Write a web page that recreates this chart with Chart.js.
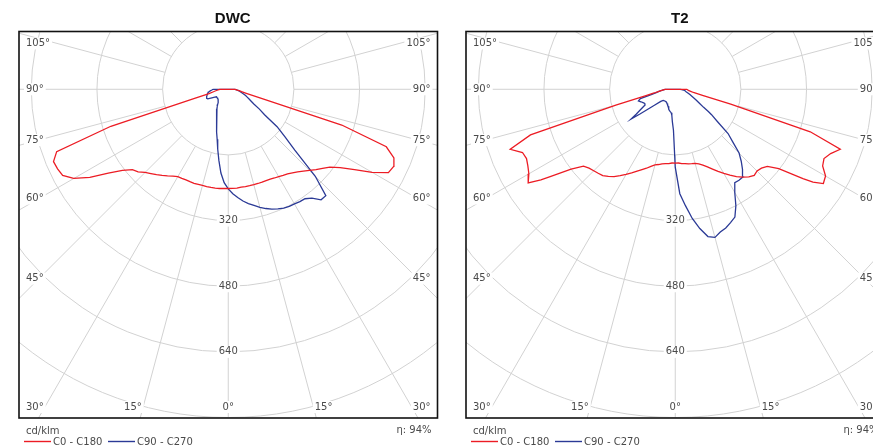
<!DOCTYPE html>
<html>
<head>
<meta charset="utf-8">
<script src="https://cdn.jsdelivr.net/npm/chart.js@4/dist/chart.umd.min.js"></script>
<style>
  html, body { margin: 0; padding: 0; background: #fff; }
  #wrap { position: relative; width: 873px; height: 446px; overflow: hidden; }
  .panel { position: absolute; top: 0; width: 447px; height: 446px; }
</style>
</head>
<body>
<div id="wrap">
  <div class="panel" style="left:0"><canvas id="dwc" width="447" height="446"></canvas></div>
  <div class="panel" style="left:447px"><canvas id="t2" width="447" height="446"></canvas></div>
</div>
<script>
// Luminous intensity distribution, cd/klm, vertical angle gamma measured from nadir.
// C0 / C90 are drawn on the right half, C180 / C270 on the left half.

const dwcGamma = [0,2.5,5,7.5,10,12.5,15,17.5,20,22.5,25,27.5,30,32.5,35,37.5,40,42.5,45,47.5,
                  50,52.5,55,57.5,60,62.5,65,67.5,70,72.5,75,77.5,80,82.5,85,87.5,90];
const dwcC0   = [242,242,242,241,241,241,241,241,241,241,242,244,246,249,252,257,263,271,280,290,
                 300,312,333,365,405,440,445,437,410,290,78,45,33,27,22,19,16];
const dwcC180 = [242,242,243,243,243,243,243,243,244,244,244,245,246,251,258,265,272,279,287,298,
                 305,325,357,400,435,455,459,461,445,300,85,48,38,32,27,23,20];
const dwcC90  = [243,255,265,275,283,290,298,305,311,316,320,322,323,325,326,335,352,352,300,220,
                 180,150,108,90,72,63,56,50,45,40,35,31,28,25,22,19,16];
const dwcC270 = [243,228,205,175,148,125,108,95,83,75,68,61,55,50,45,41,38,36,35,34,
                 34,34,34,34,38,45,55,57,56,55,53,52,50,48,44,40,37];

const t2Gamma = [0,2.5,5,7.5,10,12.5,15,17.5,20,22.5,25,27.5,30,32.5,35,37.5,40,42.5,45,47.5,
                 50,52.5,55,56,57.5,60,62.5,65,67.5,70,72.5,75,77.5,80,82.5,85,87.5,90];
const t2C0   = [180,180,182,183,185,186,187,191,197,205,215,226,237,248,260,270,279,285,282,285,
                293,318,380,405,428,423,405,400,410,428,345,140,68,45,38,32,30,28];
const t2C180 = [180,180,182,183,185,188,191,197,205,212,220,230,240,250,260,268,275,278,281,285,
                292,320,370,395,425,412,405,400,403,428,370,150,75,52,42,35,29,25];
const t2C90  = [190,255,285,318,345,368,374,365,360,352,344,320,290,270,271,270,255,238,220,190,
                168,130,108,98,82,68,58,50,43,38,34,30,27,25,23,20,16,12];
const t2C270 = [190,100,80,64,58,56,54,51,48,45,43,41,40,39,38,38,38,38,39,40,
                46,64,105,130,113,96,83,82,85,89,94,88,60,47,40,33,29,25];

// Polar grid
const ringValues   = [160, 320, 480, 640, 800, 960];
const ringLabels   = ['320', '480', '640'];
const angleTicks   = [0, 15, 30, 45, 60, 75, 90, 105];
const spokeStep    = 15;
const seriesNames  = ['C0 - C180', 'C90 - C270'];
const seriesColors = ['#ec1c24', '#2b3a96'];
const unitLabel    = 'cd/klm';
const efficiency   = 'η: 94%';

const DEG = Math.PI / 180;
const LABEL_FONT = '10px "DejaVu Sans", sans-serif';
const LABEL_COLOR = '#4a4a4a';

// Closed outline: left half from 90° down to nadir, then right half back up to 90°.
function outline(gamma, right, left) {
  const pts = [];
  for (let i = gamma.length - 1; i >= 0; i--) {
    const g = gamma[i] * DEG;
    pts.push({ x: -left[i] * Math.sin(g), y: -left[i] * Math.cos(g) });
  }
  for (let i = 0; i < gamma.length; i++) {
    const g = gamma[i] * DEG;
    pts.push({ x: right[i] * Math.sin(g), y: -right[i] * Math.cos(g) });
  }
  pts.push(pts[0]);
  return pts;
}

function boxedText(ctx, text, x, y, align) {
  const w = ctx.measureText(text).width;
  let lx = x;
  if (align === 'center') lx = x - w / 2;
  else if (align === 'right') lx = x - w;
  ctx.fillStyle = '#fff';
  ctx.fillRect(lx - 2, y - 6, w + 4, 12);
  ctx.fillStyle = LABEL_COLOR;
  ctx.textAlign = 'left';
  ctx.fillText(text, lx, y);
}

const polarGrid = {
  id: 'polarGrid',
  beforeDatasetsDraw(chart) {
    const { ctx, chartArea: a, scales: { x, y } } = chart;
    const cx = x.getPixelForValue(0), cy = y.getPixelForValue(0);
    const k = (x.getPixelForValue(100) - cx) / 100;
    ctx.save();
    ctx.beginPath();
    ctx.rect(a.left, a.top, a.right - a.left, a.bottom - a.top);
    ctx.clip();

    ctx.strokeStyle = '#d2d2d2';
    ctx.lineWidth = 1;
    ringValues.forEach(v => {
      ctx.beginPath();
      ctx.arc(cx, cy, v * k, 0, 2 * Math.PI);
      ctx.stroke();
    });
    const r0 = ringValues[0] * k, r1 = 1400 * k;
    for (let g = 0; g < 360; g += spokeStep) {
      const s = Math.sin(g * DEG), c = Math.cos(g * DEG);
      ctx.beginPath();
      ctx.moveTo(cx + s * r0, cy + c * r0);
      ctx.lineTo(cx + s * r1, cy + c * r1);
      ctx.stroke();
    }

    ctx.font = LABEL_FONT;
    ctx.textBaseline = 'middle';
    // intensity ring labels along the nadir axis
    ringLabels.forEach(t => boxedText(ctx, t, cx, cy + Number(t) * k, 'center'));

    // angle labels at the frame
    angleTicks.forEach(g => {
      const txt = g + '°';
      const w = ctx.measureText(txt).width;
      const sides = g === 0 ? [0] : [-1, 1];
      sides.forEach(side => {
        if (g <= 30) {
          const yb = a.bottom - 6;
          const yc = a.bottom - 11;
          const dx = (yb - cy) * Math.tan(g * DEG);
          if (side === 0) { boxedText(ctx, txt, cx, yc, 'center'); return; }
          if (side < 0) {
            const xr = Math.max(cx - dx, a.left + 7 + w);
            boxedText(ctx, txt, xr, yc, 'right');
          } else {
            const xl = Math.min(cx + dx, a.right - 7 - w);
            boxedText(ctx, txt, xl, yc, 'left');
          }
        } else {
          // vertical position where the spoke crosses a line 20px inside the frame
          const sg = Math.sin(g * DEG), cg = Math.cos(g * DEG);
          const reach = (cx - (a.left + 20)) / sg;
          const yc = Math.max(cy + reach * cg, a.top + 12);
          if (side < 0) boxedText(ctx, txt, a.left + 7, yc, 'left');
          else boxedText(ctx, txt, a.right - 7, yc, 'right');
        }
      });
    });
    ctx.restore();
  },
  afterDraw(chart, args, opts) {
    const { ctx, chartArea: a } = chart;
    ctx.save();
    ctx.strokeStyle = '#111';
    ctx.lineWidth = 1.6;
    ctx.strokeRect(a.left, a.top, a.right - a.left, a.bottom - a.top);

    ctx.fillStyle = '#111';
    ctx.font = 'bold 15px "Liberation Sans", Arial, sans-serif';
    ctx.textAlign = 'center';
    ctx.textBaseline = 'middle';
    ctx.fillText(opts.title, (a.left + a.right) / 2 + 4.5, 18.5);

    ctx.font = LABEL_FONT;
    ctx.fillStyle = LABEL_COLOR;
    ctx.textAlign = 'left';
    ctx.fillText(unitLabel, a.left + 7, 431);
    ctx.textAlign = 'right';
    ctx.fillText(efficiency, a.right - 6, 430.5);

    ctx.textAlign = 'left';
    const offs = [5, 89];
    seriesNames.forEach((name, i) => {
      const x0 = a.left + offs[i];
      ctx.strokeStyle = seriesColors[i];
      ctx.lineWidth = 1.4;
      ctx.beginPath();
      ctx.moveTo(x0, 441.5);
      ctx.lineTo(x0 + 27, 441.5);
      ctx.stroke();
      ctx.fillStyle = LABEL_COLOR;
      ctx.fillText(name, x0 + 29, 442);
    });
    ctx.restore();
  }
};

function makeChart(id, title, gamma, c0, c180, c90, c270) {
  return new Chart(document.getElementById(id), {
    type: 'scatter',
    data: {
      datasets: [
        { label: seriesNames[0], data: outline(gamma, c0, c180), borderColor: seriesColors[0] },
        { label: seriesNames[1], data: outline(gamma, c90, c270), borderColor: seriesColors[1] }
      ].map(d => Object.assign(d, { showLine: true, pointRadius: 0, borderWidth: 1.3, fill: false, tension: 0 }))
    },
    options: {
      responsive: false,
      animation: false,
      devicePixelRatio: 1,
      layout: { padding: { left: 19, right: 9.5, top: 31.5, bottom: 28 } },
      scales: {
        x: { type: 'linear', display: false, min: -510, max: 510 },
        y: { type: 'linear', display: false, min: -802, max: 141 }
      },
      plugins: {
        legend: { display: false },
        tooltip: { enabled: false },
        polarGrid: { title }
      }
    },
    plugins: [polarGrid]
  });
}

makeChart('dwc', 'DWC', dwcGamma, dwcC0, dwcC180, dwcC90, dwcC270);
makeChart('t2', 'T2', t2Gamma, t2C0, t2C180, t2C90, t2C270);
</script>
</body>
</html>
